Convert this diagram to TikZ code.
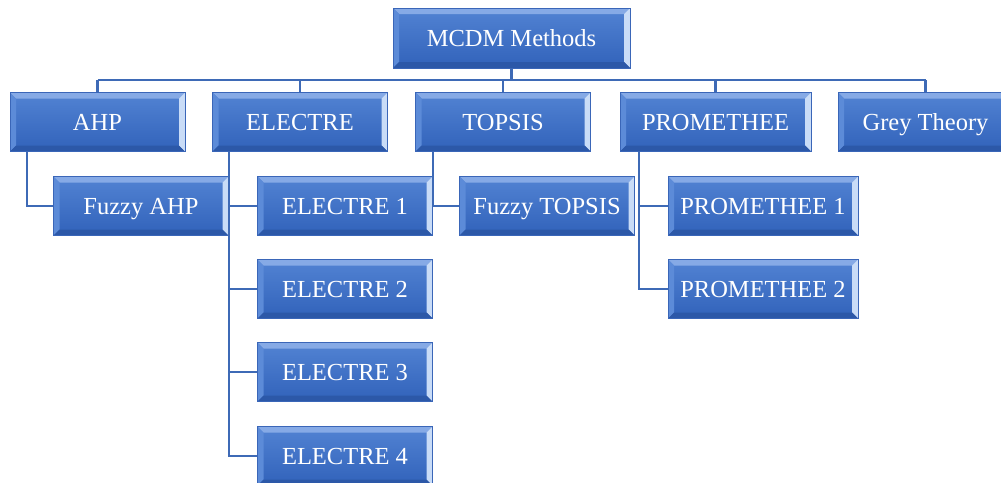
\documentclass[tikz,border=0pt]{standalone}
\usepackage{fontspec}
\setmainfont{Liberation Serif}
\usepackage{tikz}
\usetikzlibrary{calc}
\definecolor{btop}{HTML}{5283D3}
\definecolor{bbot}{HTML}{3162BA}
\definecolor{bedge}{HTML}{3A66B8}
\definecolor{bhigh}{HTML}{86AAE6}
\definecolor{bside}{HTML}{C9DCF7}
\definecolor{bleft}{HTML}{5C8BD8}
\definecolor{blow}{HTML}{2C58A8}
\definecolor{blink}{HTML}{3E6AB6}
\tikzset{
  mbox/.style={rectangle, minimum width=175pt, minimum height=59pt, inner sep=0pt,
    text height=16pt, text depth=0pt,
    top color=btop, bottom color=bbot, draw=bedge, line width=0.5pt,
    text=white, font=\fontsize{24.5}{28}\selectfont,
    path picture={
      % bevel
      \fill[bhigh] (path picture bounding box.north west) -- (path picture bounding box.north east)
        -- ([xshift=-6pt,yshift=-6pt]path picture bounding box.north east)
        -- ([xshift=6pt,yshift=-6pt]path picture bounding box.north west) -- cycle;
      \fill[bleft] (path picture bounding box.north west) -- ([xshift=6pt,yshift=-6pt]path picture bounding box.north west)
        -- ([xshift=6pt,yshift=6pt]path picture bounding box.south west)
        -- (path picture bounding box.south west) -- cycle;
      \fill[bside] (path picture bounding box.north east) -- ([xshift=-6pt,yshift=-6pt]path picture bounding box.north east)
        -- ([xshift=-6pt,yshift=6pt]path picture bounding box.south east)
        -- (path picture bounding box.south east) -- cycle;
      \fill[blow] (path picture bounding box.south west) -- ([xshift=6pt,yshift=6pt]path picture bounding box.south west)
        -- ([xshift=-6pt,yshift=6pt]path picture bounding box.south east)
        -- (path picture bounding box.south east) -- cycle;
    }},
  link/.style={draw=blink, line width=2.2pt},
}

\begin{document}
\begin{tikzpicture}[x=1pt, y=-1pt]
    \useasboundingbox (0,0) rectangle (1001,482);
    % root
    \node[mbox, minimum width=237pt, minimum height=60pt] at (511.5, 38) (mcdm) {MCDM Methods};
    % methods
    \node[mbox] at (97.5, 122) (ahp) {AHP};
    \node[mbox] at (300, 122) (electre) {ELECTRE};
    \node[mbox] at (503, 122) (topsis) {TOPSIS};
    \node[mbox, minimum width=191pt] at (715.5, 122) (prom) {PROMETHEE};
    \node[mbox] at (925.5, 122) (grey) {Grey Theory};
    % variants
    \node[mbox] at (141, 206) (fahp) {Fuzzy AHP};
    \node[mbox] at (345, 206) (el1) {ELECTRE 1};
    \node[mbox] at (345, 289) (el2) {ELECTRE 2};
    \node[mbox] at (345, 372) (el3) {ELECTRE 3};
    \node[mbox] at (345, 456) (el4) {ELECTRE 4};
    \node[mbox] at (547, 206) (ftopsis) {Fuzzy TOPSIS};
    \node[mbox, minimum width=190pt] at (763, 206) (prom1) {PROMETHEE 1};
    \node[mbox, minimum width=190pt] at (763, 289) (prom2) {PROMETHEE 2};
    % bus
    \draw[link] (mcdm.south) -- ++(0,12) coordinate (bus);
    \draw[link] (ahp.north |- bus) -- (grey.north |- bus);
    \foreach \m in {ahp, electre, topsis, prom, grey}
        \draw[link] (\m.north |- bus) -- (\m.north);
    % children
    \draw[link] ([xshift=17pt]ahp.south west) |- (fahp.west);
    \draw[link] ([xshift=17pt]electre.south west) |- (el4.west);
    \foreach \e in {el1, el2, el3}
        \draw[link] ([xshift=17pt]electre.south west |- \e.west) -- (\e.west);
    \draw[link] ([xshift=18pt]topsis.south west) |- (ftopsis.west);
    \draw[link] ([xshift=19pt]prom.south west) |- (prom2.west);
    \draw[link] ([xshift=19pt]prom.south west |- prom1.west) -- (prom1.west);
\end{tikzpicture}
\end{document}
